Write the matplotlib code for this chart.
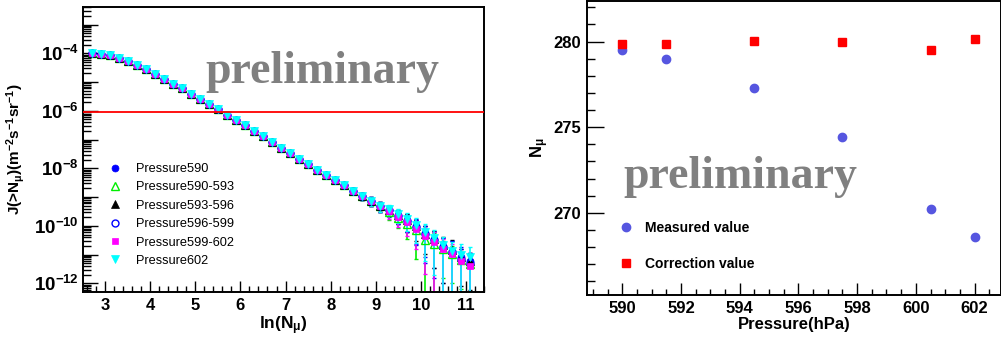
import numpy as np
import matplotlib
matplotlib.use("Agg")
import matplotlib.pyplot as plt
from matplotlib.ticker import FixedLocator, FuncFormatter, MultipleLocator

plt.rcParams['font.family'] = ['Liberation Sans', 'DejaVu Sans']
plt.rcParams['mathtext.fontset'] = 'custom'
plt.rcParams['mathtext.rm'] = 'Liberation Sans:bold'
plt.rcParams['mathtext.it'] = 'Liberation Sans:bold'
plt.rcParams['mathtext.bf'] = 'Liberation Sans:bold'
plt.rcParams['mathtext.sf'] = 'Liberation Sans:bold'

# ---------------- Left panel data ----------------
ln_nmu = [2.7, 2.9, 3.1, 3.3, 3.5, 3.7, 3.9, 4.1, 4.3, 4.5, 4.7, 4.9, 5.1, 5.3,
          5.5, 5.7, 5.9, 6.1, 6.3, 6.5, 6.7, 6.9, 7.1, 7.3, 7.5, 7.7, 7.9, 8.1,
          8.3, 8.5, 8.7, 8.9, 9.1, 9.3, 9.5, 9.7, 9.9, 10.1, 10.3, 10.5, 10.7,
          10.9, 11.1]

# log10 J, common part (x = 2.7 ... 9.1)
log_j_common = [-4.00, -4.02, -4.07, -4.17, -4.28, -4.42, -4.56, -4.72, -4.88,
                -5.07, -5.22, -5.41, -5.58, -5.77, -5.94, -6.14, -6.32, -6.50,
                -6.69, -6.89, -7.10, -7.28, -7.48, -7.69, -7.86, -8.06, -8.23,
                -8.41, -8.59, -8.78, -8.95, -9.12, -9.31]
rel_err_common = [0.01, 0.01, 0.01, 0.01, 0.01, 0.01, 0.01, 0.01, 0.01, 0.01, 0.01,
                  0.01, 0.01, 0.01, 0.01, 0.01, 0.02, 0.02, 0.02, 0.03, 0.03, 0.04,
                  0.05, 0.06, 0.08, 0.10, 0.12, 0.15, 0.18, 0.22, 0.28, 0.33, 0.38]

# log10 J tails (x = 9.3 ... 11.1) per pressure bin
tail_p590 = [-9.45, -9.63, -9.80, -10.02, -10.26, -10.45, -10.70, -10.86, -11.10, -11.22]
tail_p590_593 = [-9.52, -9.72, -9.92, -10.14, -10.50, -10.62, -10.82, -10.97, -11.20, -11.32]
tail_p593_596 = [-9.45, -9.62, -9.80, -10.02, -10.27, -10.45, -10.68, -10.84, -11.08, -11.22]
tail_p596_599 = [-9.46, -9.65, -9.83, -10.05, -10.30, -10.50, -10.75, -10.90, -11.15, -11.30]
tail_p599_602 = [-9.50, -9.70, -9.88, -10.10, -10.36, -10.55, -10.82, -10.98, -11.22, -11.38]
tail_p602 = [-9.43, -9.60, -9.77, -9.98, -10.22, -10.42, -10.68, -10.86, -11.00, -11.08]

# relative errors of the tails
err_p590 = [0.40, 0.50, 0.60, 0.75, 0.85, 0.90, 0.95, 1.20, 1.30, 0.95]
err_p590_593 = [0.45, 0.55, 0.70, 0.90, 1.20, 1.30, 0.90, 0.90, 0.90, 0.90]
err_p593_596 = [0.40, 0.50, 0.60, 0.70, 0.80, 0.90, 0.95, 1.20, 0.90, 0.90]
err_p596_599 = [0.40, 0.50, 0.60, 0.75, 0.90, 0.95, 1.20, 1.30, 1.20, 1.20]
err_p599_602 = [0.45, 0.55, 0.65, 0.80, 0.95, 1.20, 1.30, 1.30, 0.95, 0.95]
err_p602 = [0.40, 0.50, 0.60, 0.75, 0.90, 0.95, 0.98, 0.98, 1.25, 1.25]

labels_left = ['Pressure590', 'Pressure590-593', 'Pressure593-596',
               'Pressure596-599', 'Pressure599-602', 'Pressure602']
tails = [tail_p590, tail_p590_593, tail_p593_596, tail_p596_599, tail_p599_602, tail_p602]
tail_errs = [err_p590, err_p590_593, err_p593_596, err_p596_599, err_p599_602, err_p602]
colors_left = ['#0000ff', '#00ee00', '#000000', '#0000ff', '#ff00ff', '#00ffff']
markers_left = ['o', '^', '^', 'o', 's', 'v']
sizes_left = [5.0, 5.5, 5.5, 5.0, 4.6, 5.8]
filled_left = [True, False, True, False, True, True]

threshold = 9.0e-7

# ---------------- Right panel data ----------------
pressure = [590.0, 591.5, 594.5, 597.5, 600.5, 602.0]
measured = [279.52, 278.97, 277.26, 274.45, 270.23, 268.58]
corrected = [279.87, 279.88, 280.02, 279.96, 279.53, 280.16]

W, H = 1001, 343
fig = plt.figure(figsize=(W / 100, H / 100), dpi=100)

def fx(px):
    return px / W

def fy(py):
    return 1 - py / H

axL = fig.add_axes([fx(83), fy(292), fx(484) - fx(83), fy(7) - fy(292)])
axR = fig.add_axes([fx(587), fy(295), fx(1001) - fx(587), fy(1) - fy(295)])

# ---------------- Left panel ----------------
x = np.array(ln_nmu)
handles = []
for lab, tail, terr, c, m, ms, filled in zip(labels_left, tails, tail_errs, colors_left,
                                             markers_left, sizes_left, filled_left):
    y = 10 ** np.array(log_j_common + tail)
    err = y * np.array(rel_err_common + terr)
    lower = np.where(err >= y, y - 1e-20, err)
    axL.errorbar(x, y, yerr=[lower, err], fmt='none', ecolor=c, elinewidth=1.2,
                 capsize=1.5, capthick=1.0, zorder=2)
    h, = axL.plot(x, y, linestyle='none', marker=m, markersize=ms,
                  markerfacecolor=c if filled else 'none', markeredgecolor=c,
                  markeredgewidth=1.0 if not filled else 0.5, label=lab, zorder=3)
    handles.append(h)

axL.axhline(threshold, color='#ff0000', linewidth=1.3, zorder=4)

axL.set_yscale('log')
axL.set_xlim(2.51, 11.40)
axL.set_ylim(10 ** -12.3, 10 ** -2.39)

decades = [10.0 ** k for k in range(-13, -1)]
axL.yaxis.set_major_locator(FixedLocator(decades))
minors = [m * 10.0 ** k for k in range(-13, -1) for m in range(2, 10)]
axL.yaxis.set_minor_locator(FixedLocator(minors))

def log_fmt(v, pos):
    k = int(round(np.log10(v)))
    if k % 2 == 0:
        return r'$10^{\mathbf{-%d}}$' % (-k)
    return ''

axL.yaxis.set_major_formatter(FuncFormatter(log_fmt))
axL.yaxis.set_minor_formatter(FuncFormatter(lambda v, p: ''))
axL.xaxis.set_major_locator(MultipleLocator(1))
axL.xaxis.set_minor_locator(MultipleLocator(0.2))

axL.tick_params(axis='both', which='major', direction='in', length=11, width=1.0,
                labelsize=12, pad=4)
axL.tick_params(axis='y', which='major', labelsize=13.5, pad=3)
axL.tick_params(axis='both', which='minor', direction='in', length=5.5, width=1.0)
axL.tick_params(axis='x', which='major', length=8)
axL.tick_params(axis='x', which='minor', length=4)
axL.tick_params(top=False, right=False, which='both')
for lbl in axL.get_xticklabels() + axL.get_yticklabels():
    lbl.set_fontweight('bold')
for s in axL.spines.values():
    s.set_linewidth(1.4)

axL.set_xlabel(r'ln(N$_{\mathrm{μ}}$)', fontsize=12.5, fontweight='bold', labelpad=1)
axL.set_ylabel(r'J(>N$_{\mathrm{μ}}$)(m$^{-2}$s$^{-1}$sr$^{-1}$)', fontsize=11,
               fontweight='bold', labelpad=5)

axL.text(fx(205), fy(83), 'preliminary', transform=fig.transFigure,
         fontsize=33, fontweight='bold', family='Liberation Serif', color='#808080',
         ha='left', va='baseline', zorder=1)

fs_leg = 9.2
fs_px = fs_leg * 100 / 72
left_px = 115 - fs_px / 2
legL = axL.legend(handles=handles, loc='upper left',
                  bbox_to_anchor=(fx(left_px), fy(163)), bbox_transform=fig.transFigure,
                  frameon=False, fontsize=fs_leg, handlelength=1.0,
                  handletextpad=(136 - left_px - fs_px) / fs_px, borderpad=0,
                  borderaxespad=0, labelspacing=0.5, markerscale=1.0)

# ---------------- Right panel ----------------
hm, = axR.plot(pressure, measured, linestyle='none', marker='o', markersize=6,
               color='#5656e0', label='Measured value')
hc, = axR.plot(pressure, corrected, linestyle='none', marker='s', markersize=5.5,
               color='#ff0000', label='Correction value')
axR.set_xlim(588.8, 602.9)
axR.set_ylim(265.2, 282.37)
axR.xaxis.set_major_locator(MultipleLocator(2))
axR.xaxis.set_minor_locator(MultipleLocator(0.5))
axR.yaxis.set_major_locator(MultipleLocator(5))
axR.yaxis.set_minor_locator(MultipleLocator(1))
axR.tick_params(axis='both', which='major', direction='in', length=12, width=1.0,
                labelsize=12, pad=4)
axR.tick_params(axis='both', which='minor', direction='in', length=6, width=1.0)
axR.tick_params(axis='x', which='major', length=9)
axR.tick_params(axis='x', which='minor', length=4.5)
axR.tick_params(top=False, right=False, which='both')
for lbl in axR.get_xticklabels() + axR.get_yticklabels():
    lbl.set_fontweight('bold')
for s in axR.spines.values():
    s.set_linewidth(1.4)
axR.set_xlabel('Pressure(hPa)', fontsize=12, fontweight='bold', labelpad=1)
axR.set_ylabel(r'N$_{\mathrm{μ}}$', fontsize=12, fontweight='bold', labelpad=2)

axR.text(fx(623), fy(188), 'preliminary', transform=fig.transFigure,
         fontsize=33, fontweight='bold', family='Liberation Serif', color='#808080',
         ha='left', va='baseline', zorder=1)

fs_leg2 = 10
fs_px2 = fs_leg2 * 100 / 72
left_px2 = 626 - fs_px2 / 2
legR = axR.legend(handles=[hm, hc], loc='upper left',
                  bbox_to_anchor=(fx(left_px2), fy(221)), bbox_transform=fig.transFigure,
                  frameon=False, prop={'size': fs_leg2, 'weight': 'bold'},
                  handlelength=1.0, handletextpad=(645 - left_px2 - fs_px2) / fs_px2,
                  borderpad=0, borderaxespad=0, labelspacing=1.6)

fig.savefig('out.png', dpi=100)
